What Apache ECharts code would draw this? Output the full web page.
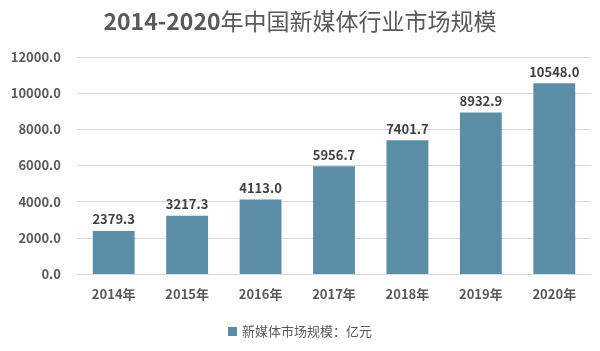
<!DOCTYPE html>
<html>
<head>
<meta charset="utf-8">
<script src="https://cdn.jsdelivr.net/npm/echarts@6/dist/echarts.min.js"></script>
<style>
  html, body { margin: 0; padding: 0; background: #fff; }
  #chart { width: 600px; height: 351px; }
</style>
</head>
<body>
<div id="chart"></div>
<script>
// Data
const years = ['2014年', '2015年', '2016年', '2017年', '2018年', '2019年', '2020年'];
const marketSize = [2379.3, 3217.3, 4113.0, 5956.7, 7401.7, 8932.9, 10548.0];
const seriesName = '新媒体市场规模：亿元';

const textColor = '#595959';
const barColor = '#5B8EA6';

let chart = echarts.init(document.getElementById('chart'));

chart.setOption({
    animation: false,
    textStyle: { fontFamily: '"Noto Sans CJK SC", "Noto Sans", sans-serif' },
    title: {
        text: '{b|2014-2020}{n|年中国新媒体行业市场规模}',
        left: 'center',
        top: 5,
        textStyle: {
            rich: {
                b: { fontSize: 23, fontWeight: 'bold', color: textColor },
                n: { fontSize: 23, fontWeight: 'normal', color: textColor }
            }
        }
    },
    legend: {
        bottom: 8,
        itemWidth: 9,
        itemHeight: 9,
        icon: 'rect',
        textStyle: { fontSize: 13, color: textColor }
    },
    grid: { left: 77, right: 9, top: 57, bottom: 77 },
    xAxis: {
        type: 'category',
        data: years,
        axisTick: { show: false },
        axisLine: { lineStyle: { color: '#d9d9d9' } },
        axisLabel: { fontSize: 13, fontWeight: 'bold', color: textColor, margin: 14 }
    },
    yAxis: {
        type: 'value',
        min: 0,
        max: 12000,
        interval: 2000,
        axisLabel: {
            fontSize: 13, fontWeight: 'bold', color: textColor, margin: 16,
            formatter: v => v.toFixed(1)
        },
        splitLine: { lineStyle: { color: '#d9d9d9' } }
    },
    series: [{
        name: seriesName,
        type: 'bar',
        data: marketSize,
        barCategoryGap: '43%',
        itemStyle: { color: barColor },
        label: {
            show: true,
            position: 'top',
            fontSize: 13,
            fontWeight: 'bold',
            color: '#404040',
            formatter: p => p.value.toFixed(1)
        }
    }]
});
</script>
</body>
</html>
